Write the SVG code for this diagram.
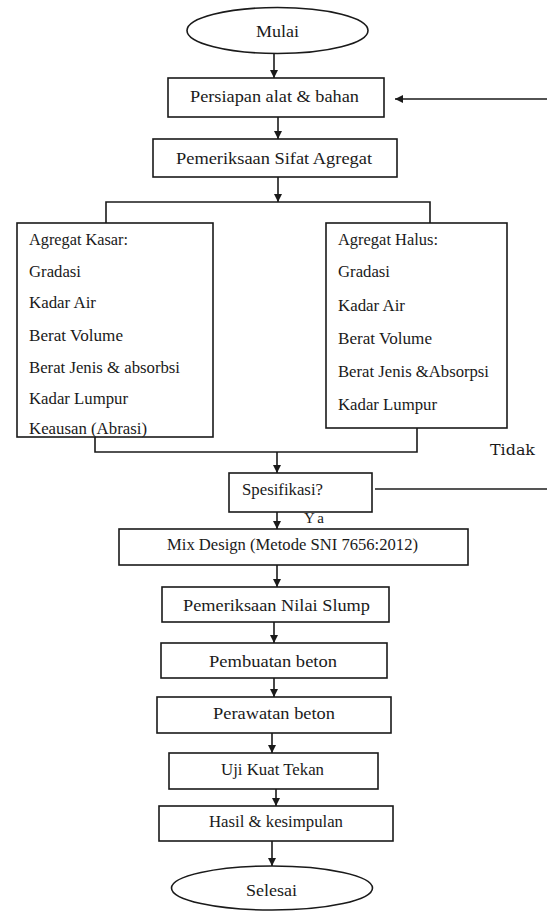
<svg xmlns="http://www.w3.org/2000/svg" width="547" height="911" viewBox="0 0 547 911" font-family="'Liberation Serif', 'DejaVu Serif', serif">
<style>
  .box { fill: #fff; stroke: #1a1a1a; stroke-width: 1.6; }
  text { font-family: 'Liberation Serif', 'DejaVu Serif', serif; fill: #1a1a1a; }
  .t { font-size: 17px; }
  .l { font-size: 16.5px; }
  .c { fill: none; stroke: #1a1a1a; stroke-width: 1.6; }
  .a { fill: none; stroke: #1a1a1a; stroke-width: 1.6; marker-end: url(#ah); }
</style>
<defs>
  <marker id="ah" viewBox="0 0 10 10" refX="10" refY="5" markerWidth="5" markerHeight="5" orient="auto" markerUnits="strokeWidth">
    <path d="M0,0 L10,5 L0,10 z" fill="#1a1a1a"/>
  </marker>
</defs>
<rect width="547" height="911" fill="#fff"/>

<g id="connectors">
  <line class="a" x1="274" y1="53" x2="274" y2="78"/>
  <line class="a" x1="278" y1="117" x2="278" y2="139"/>
  <line class="a" x1="278" y1="177" x2="278" y2="202"/>
  <polyline class="c" points="106,223 106,202 430,202 430,223"/>
  <polyline class="c" points="95,437 95,452 417,452 417,428"/>
  <line class="a" x1="277" y1="452" x2="277" y2="473"/>
  <line class="a" x1="277" y1="512" x2="277" y2="529"/>
  <line class="c" x1="375" y1="489" x2="547" y2="489" style="stroke:#555;stroke-width:2"/>
  <line class="a" x1="547" y1="99" x2="395" y2="99"/>
  <line class="a" x1="277" y1="565" x2="277" y2="587"/>
  <line class="a" x1="274" y1="622" x2="274" y2="643"/>
  <line class="a" x1="274" y1="678" x2="274" y2="697"/>
  <line class="a" x1="272" y1="733" x2="272" y2="753"/>
  <line class="a" x1="276" y1="789" x2="276" y2="806"/>
  <line class="a" x1="272" y1="841" x2="272" y2="866"/>
  <text x="490" y="455" style="font-family:'DejaVu Serif',serif;font-size:15px" textLength="45" lengthAdjust="spacingAndGlyphs">Tidak</text>
  <text x="304" y="523" style="font-size:15px" textLength="20">Ya</text>
</g>

<g id="mulai">
  <ellipse class="box" cx="277.5" cy="30.5" rx="90.5" ry="23"/>
  <text class="t" x="256" y="37" textLength="43" lengthAdjust="spacingAndGlyphs">Mulai</text>
</g>
<g id="persiapan">
  <rect class="box" x="168" y="78" width="216" height="39"/>
  <text class="t" x="190" y="102" textLength="169" lengthAdjust="spacingAndGlyphs">Persiapan alat &amp; bahan</text>
</g>
<g id="pemeriksaan-sifat">
  <rect class="box" x="153" y="139" width="244" height="38"/>
  <text class="t" x="176" y="164" textLength="196" lengthAdjust="spacingAndGlyphs">Pemeriksaan Sifat Agregat</text>
</g>
<g id="agregat-kasar">
  <rect class="box" x="17" y="223" width="196" height="214"/>
  <text class="l" x="29" y="245" textLength="99" lengthAdjust="spacingAndGlyphs">Agregat Kasar:</text>
  <text class="l" x="29" y="277" textLength="52" lengthAdjust="spacingAndGlyphs">Gradasi</text>
  <text class="l" x="29" y="308" textLength="67" lengthAdjust="spacingAndGlyphs">Kadar Air</text>
  <text class="l" x="29" y="341" textLength="94" lengthAdjust="spacingAndGlyphs">Berat Volume</text>
  <text class="l" x="29" y="373" textLength="151" lengthAdjust="spacingAndGlyphs">Berat Jenis &amp; absorbsi</text>
  <text class="l" x="29" y="404" textLength="99" lengthAdjust="spacingAndGlyphs">Kadar Lumpur</text>
  <text class="l" x="29" y="434" textLength="118" lengthAdjust="spacingAndGlyphs">Keausan (Abrasi)</text>
</g>
<g id="agregat-halus">
  <rect class="box" x="326" y="223" width="181" height="205"/>
  <text class="l" x="338" y="245" textLength="100" lengthAdjust="spacingAndGlyphs">Agregat Halus:</text>
  <text class="l" x="338" y="277" textLength="52" lengthAdjust="spacingAndGlyphs">Gradasi</text>
  <text class="l" x="338" y="311" textLength="67" lengthAdjust="spacingAndGlyphs">Kadar Air</text>
  <text class="l" x="338" y="344" textLength="94" lengthAdjust="spacingAndGlyphs">Berat Volume</text>
  <text class="l" x="338" y="377" textLength="151" lengthAdjust="spacingAndGlyphs">Berat Jenis &amp;Absorpsi</text>
  <text class="l" x="338" y="410" textLength="99" lengthAdjust="spacingAndGlyphs">Kadar Lumpur</text>
</g>
<g id="spesifikasi">
  <rect class="box" x="229" y="473" width="143" height="39"/>
  <text class="l" x="242" y="495" textLength="81" lengthAdjust="spacingAndGlyphs">Spesifikasi?</text>
</g>
<g id="mix-design">
  <rect class="box" x="119" y="529" width="349" height="36"/>
  <text class="l" x="167" y="550" textLength="251" lengthAdjust="spacingAndGlyphs">Mix Design (Metode SNI 7656:2012)</text>
</g>
<g id="slump">
  <rect class="box" x="162" y="587" width="227" height="35"/>
  <text class="t" x="183" y="611" textLength="187" lengthAdjust="spacingAndGlyphs">Pemeriksaan Nilai Slump</text>
</g>
<g id="pembuatan">
  <rect class="box" x="161" y="643" width="226" height="35"/>
  <text class="t" x="209" y="667" textLength="128" lengthAdjust="spacingAndGlyphs">Pembuatan beton</text>
</g>
<g id="perawatan">
  <rect class="box" x="157" y="697" width="234" height="36"/>
  <text class="t" x="213" y="719" textLength="122" lengthAdjust="spacingAndGlyphs">Perawatan beton</text>
</g>
<g id="uji">
  <rect class="box" x="169" y="753" width="209" height="36"/>
  <text class="t" x="221" y="775" textLength="103" lengthAdjust="spacingAndGlyphs">Uji Kuat Tekan</text>
</g>
<g id="hasil">
  <rect class="box" x="159" y="806" width="234" height="35"/>
  <text class="t" x="209" y="827" textLength="134" lengthAdjust="spacingAndGlyphs">Hasil &amp; kesimpulan</text>
</g>
<g id="selesai">
  <ellipse class="box" cx="272" cy="888" rx="100.5" ry="22"/>
  <text class="t" x="246" y="896" textLength="51" lengthAdjust="spacingAndGlyphs">Selesai</text>
</g>
</svg>
